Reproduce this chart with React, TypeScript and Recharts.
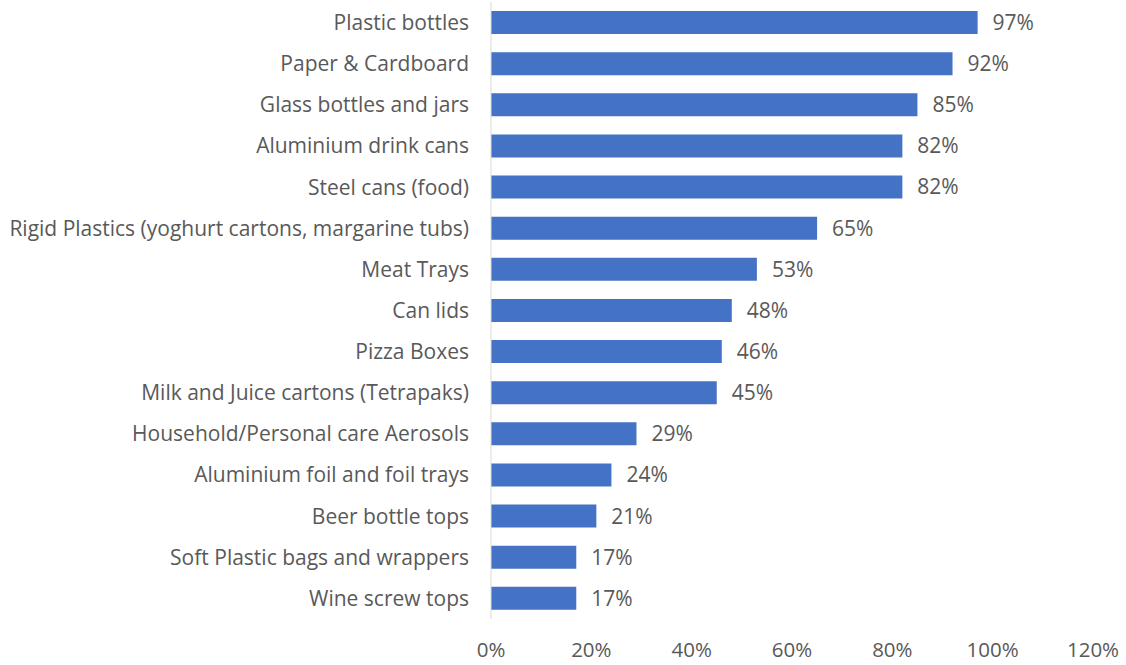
import { BarChart, Bar, XAxis, YAxis, LabelList } from "recharts";

const categories = [
  "Plastic bottles",
  "Paper & Cardboard",
  "Glass bottles and jars",
  "Aluminium drink cans",
  "Steel cans (food)",
  "Rigid Plastics (yoghurt cartons, margarine tubs)",
  "Meat Trays",
  "Can lids",
  "Pizza Boxes",
  "Milk and Juice cartons (Tetrapaks)",
  "Household/Personal care Aerosols",
  "Aluminium foil and foil trays",
  "Beer bottle tops",
  "Soft Plastic bags and wrappers",
  "Wine screw tops",
];

const shares = [97, 92, 85, 82, 82, 65, 53, 48, 46, 45, 29, 24, 21, 17, 17];

const xTicks = [0, 20, 40, 60, 80, 100, 120];

const data = categories.map((name, i) => ({ name, value: shares[i] }));

const FONT = "'Open Sans', sans-serif";
const GREY = "#595959";

export default function App() {
  return (
    <div style={{ position: "absolute", left: 0, top: 0, width: 1126, height: 665, background: "#fff" }}>
      <BarChart
        width={1126}
        height={665}
        data={data}
        layout="vertical"
        margin={{ top: 2, right: 33, bottom: 6, left: 0 }}
      >
        <XAxis
          type="number"
          domain={[0, 120]}
          ticks={xTicks}
          tickFormatter={(v) => `${v}%`}
          axisLine={false}
          tickLine={false}
          tickSize={0}
          tickMargin={23}
          height={40}
          tick={{ fill: GREY, fontSize: 20.5, fontFamily: FONT }}
        />
        <YAxis
          type="category"
          dataKey="name"
          width={491}
          axisLine={{ stroke: "#d9d9d9", strokeWidth: 1 }}
          tickLine={false}
          tickSize={0}
          tickMargin={22}
          interval={0}
          tick={{ fill: GREY, fontSize: 21, fontFamily: FONT }}
        />
        <Bar dataKey="value" fill="#4472c4" barSize={23} isAnimationActive={false}>
          <LabelList
            dataKey="value"
            position="right"
            offset={15}
            formatter={(v: number) => `${v}%`}
            style={{ fill: GREY, fontSize: 21, fontFamily: FONT }}
          />
        </Bar>
      </BarChart>
    </div>
  );
}
